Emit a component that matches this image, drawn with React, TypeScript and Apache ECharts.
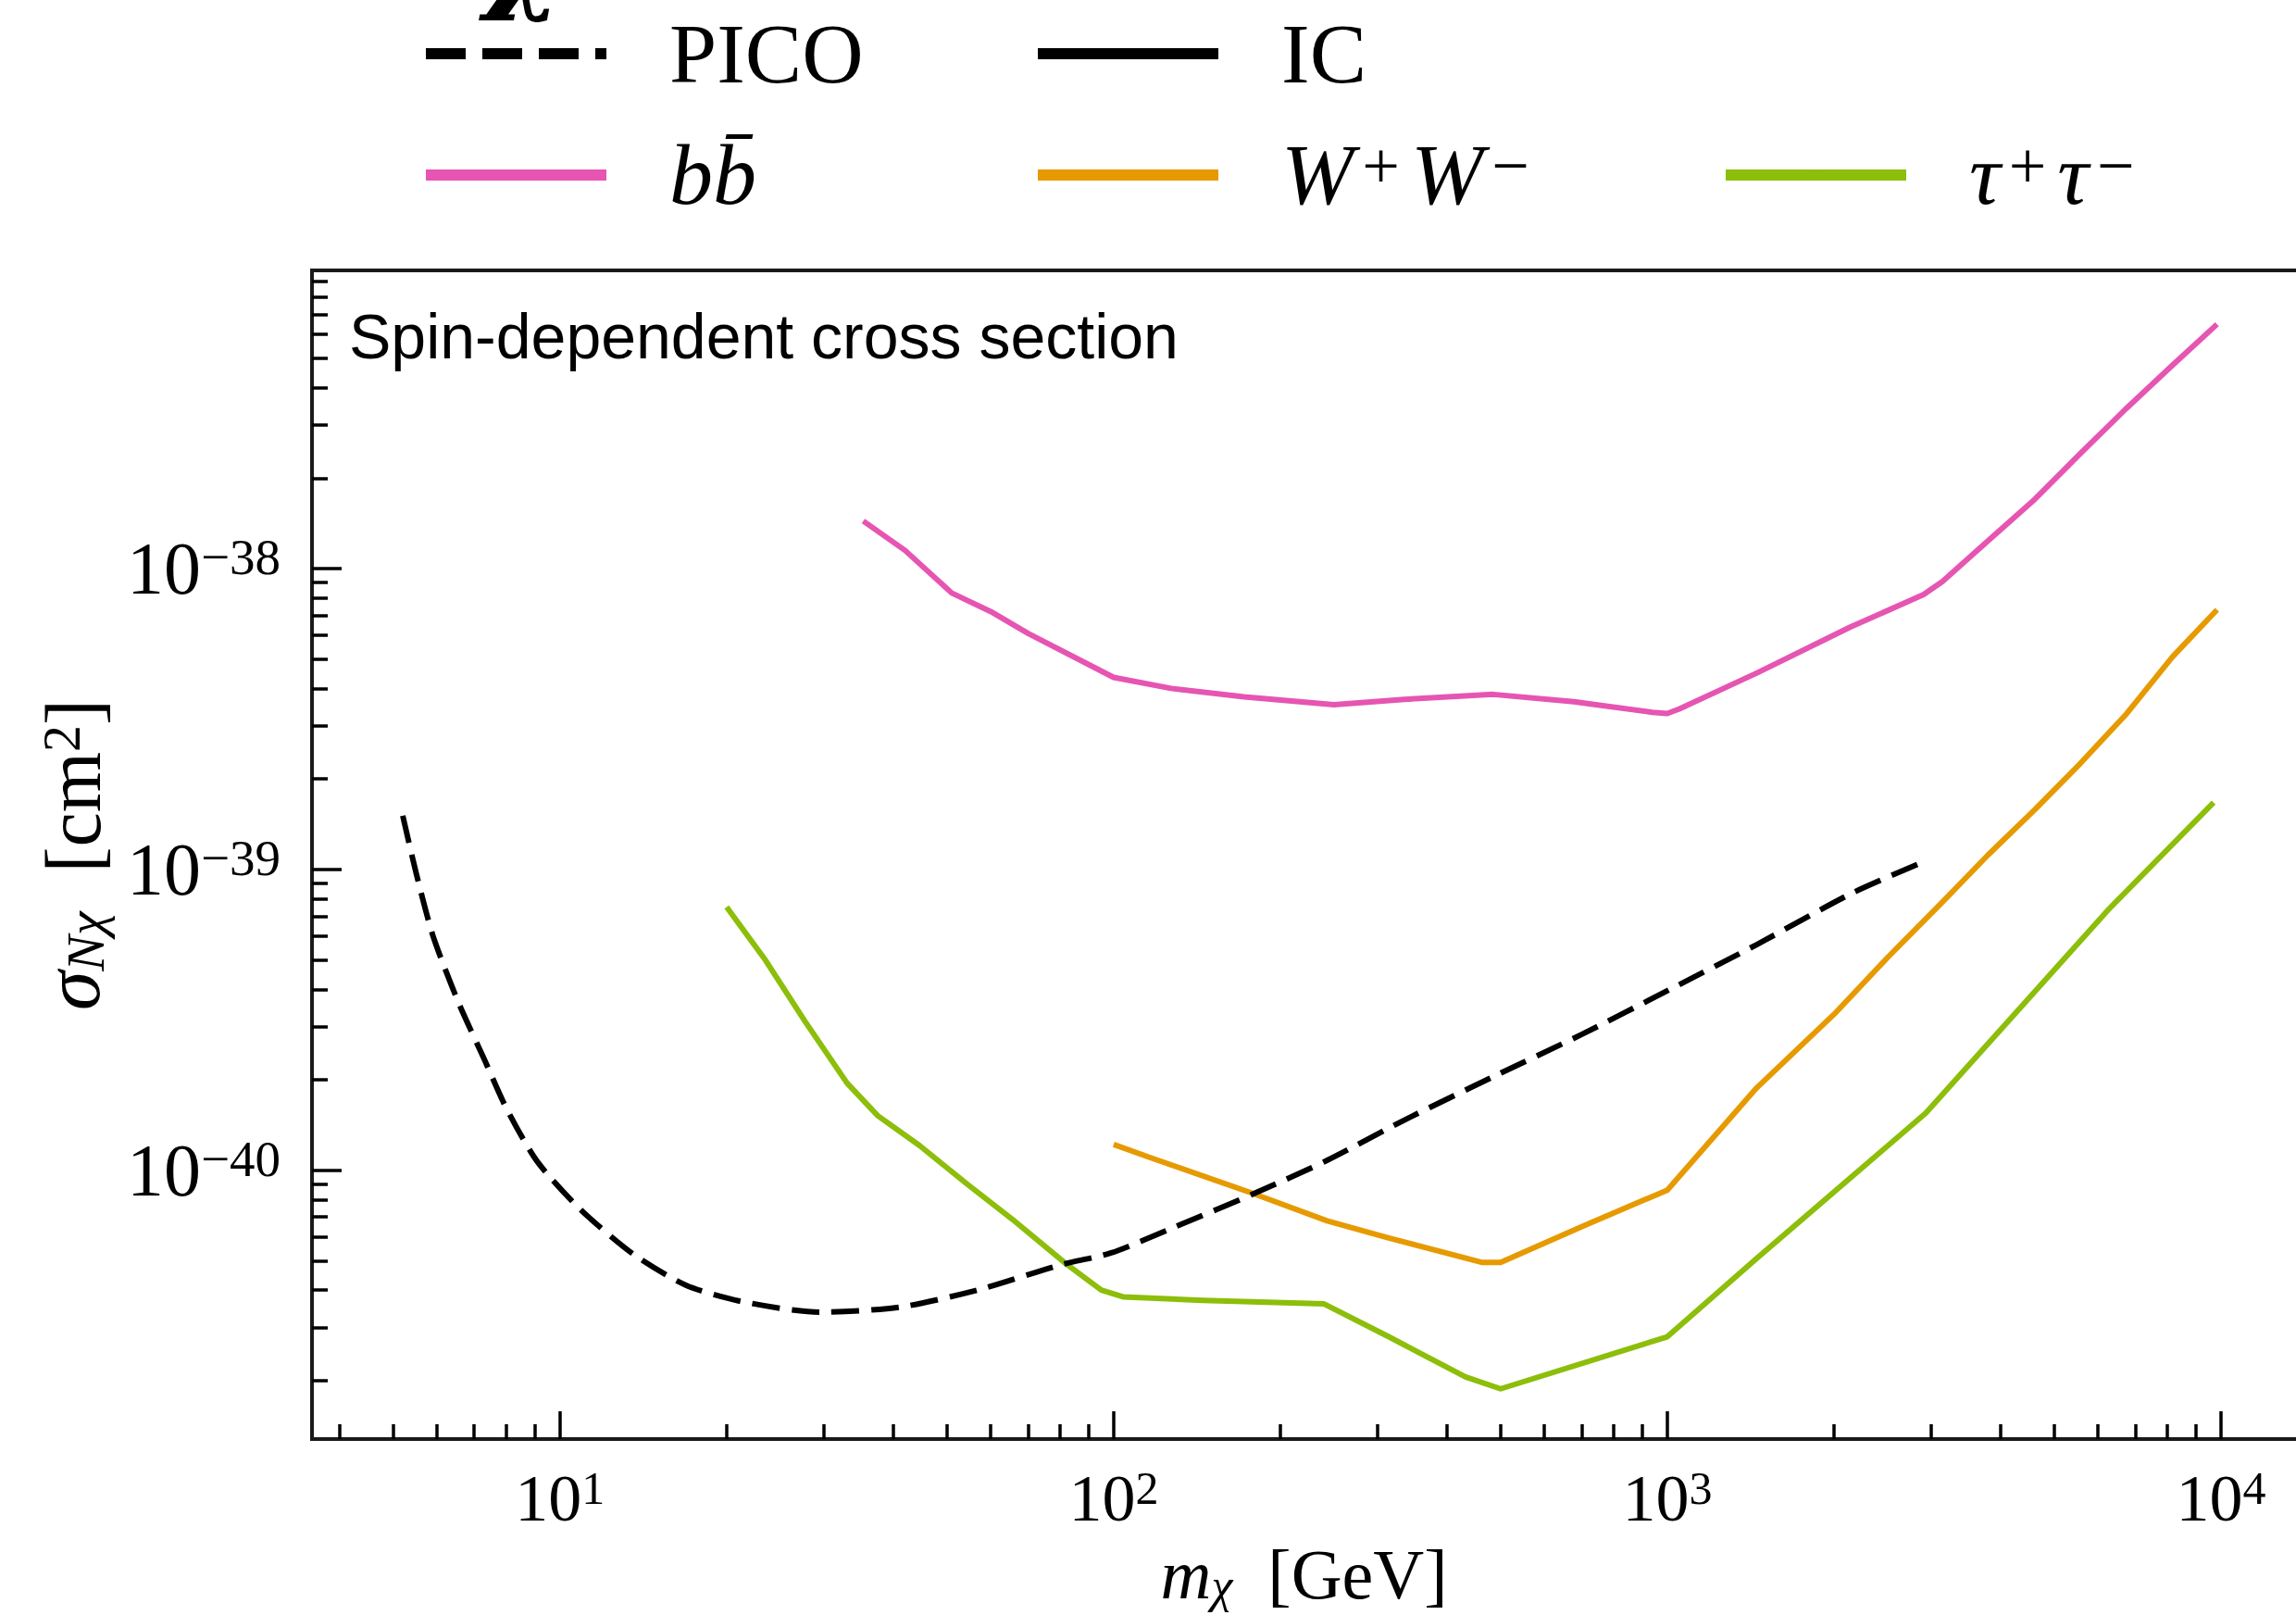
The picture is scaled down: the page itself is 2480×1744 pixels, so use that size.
import React, { useEffect, useRef } from 'react';
import * as echarts from 'echarts';

// ---------- data (mass in GeV, cross section in cm^2) ----------
const MASS_PICO = [5.2, 5.5, 5.9, 6.55, 7.3, 8.0, 9.1, 10.9, 13.6, 16.9, 21.1, 29.4, 41, 57, 80, 99, 128, 181, 243, 335, 485, 700, 1007, 1453, 2143, 2830];
const SIGMA_PICO = [1.51e-39, 9.7e-40, 6.0e-40, 3.63e-40, 2.34e-40, 1.61e-40, 1.07e-40, 7.4e-41, 5.25e-41, 4.15e-41, 3.68e-41, 3.38e-41, 3.51e-41, 4.01e-41, 4.85e-41, 5.32e-41, 6.45e-41, 8.44e-41, 1.08e-40, 1.47e-40, 2.05e-40, 2.83e-40, 3.98e-40, 5.64e-40, 8.3e-40, 1.04e-39];

const MASS_IC: number[] = [];
const SIGMA_IC: number[] = [];

const MASS_BB = [35.3, 42, 51, 60, 70, 100, 127, 172, 250, 335, 485, 678, 940, 1000, 1052, 1459, 2143, 2904, 3140, 3800, 4610, 5570, 6750, 8180, 9840];
const SIGMA_BB = [1.44e-38, 1.15e-38, 8.3e-39, 7.2e-39, 6.1e-39, 4.35e-39, 4.0e-39, 3.75e-39, 3.53e-39, 3.68e-39, 3.82e-39, 3.61e-39, 3.33e-39, 3.3e-39, 3.42e-39, 4.52e-39, 6.4e-39, 8.2e-39, 9.06e-39, 1.24e-38, 1.7e-38, 2.41e-38, 3.41e-38, 4.75e-38, 6.49e-38];

const MASS_WW = [100, 117, 178, 243, 314, 462, 500, 700, 1000, 1450, 2000, 2500, 3140, 3800, 4610, 5570, 6750, 8180, 9840];
const SIGMA_WW = [1.22e-40, 1.1e-40, 8.4e-41, 6.8e-41, 5.96e-41, 4.95e-41, 4.95e-41, 6.5e-41, 8.6e-41, 1.88e-40, 3.3e-40, 5.1e-40, 7.8e-40, 1.12e-39, 1.58e-39, 2.25e-39, 3.29e-39, 5.1e-39, 7.3e-39];

const MASS_TT = [20, 23.5, 27.7, 33, 37.5, 44.6, 54, 65.5, 82, 95, 104, 145, 240, 314, 432, 500, 1000, 1450, 2930, 6280, 9700];
const SIGMA_TT = [7.5e-40, 5.0e-40, 3.13e-40, 1.95e-40, 1.52e-40, 1.21e-40, 9.1e-41, 6.9e-41, 4.9e-41, 4.0e-41, 3.8e-41, 3.7e-41, 3.6e-41, 2.8e-41, 2.06e-41, 1.88e-41, 2.8e-41, 5.1e-41, 1.55e-40, 7.4e-40, 1.67e-39];

// ---------- axes ----------
const X_MIN = 3.565;
const X_MAX = 13665; // plot is cut off at the right edge of the picture
const Y_MIN = 1.28e-41;
const Y_MAX = 9.8e-38;
const Y_UNIT = 1e-41; // plotted unit for the log axis
const MINOR_MANTISSAS = [2, 3, 4, 5, 6, 7, 8, 9];
const X_MINOR_DECADES = [0, 1, 2, 3];
const Y_MINOR_DECADES = [-41, -40, -39, -38];

const X_TITLE = '{i|m}{sub|χ}{n|  [GeV]}';
const Y_TITLE = '{i|σ}{sub|Nχ}{n|  [cm}{sup|2}{n|]}';
const PANEL_TEXT = 'Spin-dependent cross section';

const COLORS = { PICO: '#000000', IC: '#000000', bb: '#E655B2', WW: '#E69A00', tt: '#8CBE0A' };

const SERIF = "'Liberation Serif', 'DejaVu Serif', serif";
const SANS = "'Liberation Sans', Arial, sans-serif";
const FRAME = '#1a1a1a';

function pairs(m: number[], s: number[]) {
  return m.map((v, i) => [v, s[i] / Y_UNIT]);
}
function minorLog(decades: number[]) {
  const out: number[] = [];
  decades.forEach((d) => MINOR_MANTISSAS.forEach((k) => out.push(Math.log10(k) + d)));
  return out;
}
function supText(e: number) {
  return e < 0 ? '\u2212' + Math.abs(e) : String(e);
}
function powLabel(v: number, shift: number) {
  const l = Math.log10(v);
  const e = Math.round(l);
  if (Math.abs(l - e) > 1e-6) return '';
  return '{b|10}{s|' + supText(e + shift) + '}';
}

const LEGEND_TEXT: Record<string, string> = {
  PICO: '{g| }{n|PICO}',
  IC: '{g| }{n|IC}',
  'bb̄': '{g| }{i|bb\u0304}',
  'W⁺W⁻': '{g| }{i|W}{s|+}{i|W}{s|\u2212}',
  'τ⁺τ⁻': '{g| }{i|τ}{s|+}{i|τ}{s|\u2212}',
};

export default function App() {
  const ref = useRef<HTMLDivElement>(null);
  useEffect(() => {
    const chart = echarts.init(ref.current as HTMLDivElement, null, { renderer: 'svg' });
    const yShift = Math.round(Math.log10(Y_UNIT));

    const legendRich = {
      g: { width: 63, fontSize: 92, lineHeight: 92 },
      n: { fontFamily: SERIF, fontSize: 92, lineHeight: 92, verticalAlign: 'bottom', color: '#000' },
      i: { fontFamily: SERIF, fontStyle: 'italic', fontSize: 94, lineHeight: 92, verticalAlign: 'bottom', color: '#000' },
      s: { fontFamily: SERIF, fontSize: 72, lineHeight: 18, verticalAlign: 'top', color: '#000', padding: [0, 12, 0, 9] },
    };
    const mkLegend = (name: string, left: number, top: number, dash?: number[]) => ({
      data: [name],
      left,
      top,
      padding: 0,
      itemWidth: 195,
      itemHeight: 12,
      itemGap: 0,
      selectedMode: false,
      lineStyle: { width: 12, type: dash ? dash : 'solid' },
      formatter: (n: string) => LEGEND_TEXT[n] || n,
      textStyle: { fontFamily: SERIF, fontSize: 92, color: '#000', rich: legendRich },
    });

    const tickStyle = { color: '#000', width: 3.5 };
    const frameLine = { show: true, onZero: false, lineStyle: { color: FRAME, width: 4, cap: 'square' } };
    const labelRichX = {
      b: { fontFamily: SERIF, fontSize: 72, lineHeight: 72, verticalAlign: 'bottom', color: '#000' },
      s: { fontFamily: SERIF, fontSize: 50, lineHeight: 32, verticalAlign: 'top', color: '#000' },
    };
    const labelRichY = {
      b: { fontFamily: SERIF, fontSize: 80, lineHeight: 80, verticalAlign: 'bottom', color: '#000' },
      s: { fontFamily: SERIF, fontSize: 55, lineHeight: 38, verticalAlign: 'top', color: '#000' },
    };

    const lineSeries = (name: string, data: number[][], color: string, dash?: number[], z = 2, smooth: number | boolean = false) => ({
      name,
      type: 'line',
      data,
      symbol: 'none',
      smooth,
      xAxisIndex: 0,
      yAxisIndex: 0,
      z,
      lineStyle: { color, width: 6, type: dash ? dash : 'solid', cap: 'butt', join: 'round' },
      itemStyle: { color },
      emphasis: { disabled: true },
    });

    const option = {
      animation: false,
      backgroundColor: '#ffffff',
      grid: {
        left: 337,
        top: 292,
        right: 0,
        height: 1262,
        show: false,
        containLabel: false,
      },
      legend: [
        mkLegend('PICO', 454, 12, [43, 18]),
        mkLegend('IC', 1115, 12),
        mkLegend('bb̄', 454, 141),
        mkLegend('W⁺W⁻', 1115, 141),
        mkLegend('τ⁺τ⁻', 1858, 141),
      ],
      xAxis: [
        {
          type: 'log',
          logBase: 10,
          min: X_MIN,
          max: X_MAX,
          gridIndex: 0,
          position: 'bottom',
          axisLine: frameLine,
          splitLine: { show: false },
          axisTick: { show: true, inside: true, length: 30, lineStyle: tickStyle },
          axisLabel: {
            margin: 28,
            showMinLabel: false,
            showMaxLabel: false,
            formatter: (v: number) => powLabel(v, 0),
            rich: labelRichX,
          },
          name: X_TITLE,
          nameLocation: 'middle',
          nameGap: 108,
          nameTextStyle: {
            rich: {
              i: { fontFamily: SERIF, fontStyle: 'italic', fontSize: 76, lineHeight: 76, verticalAlign: 'bottom', color: '#000' },
              n: { fontFamily: SERIF, fontSize: 76, lineHeight: 76, verticalAlign: 'bottom', color: '#000' },
              sub: { fontFamily: SERIF, fontStyle: 'italic', fontSize: 52, lineHeight: 38, verticalAlign: 'bottom', color: '#000' },
            },
          },
        },
        {
          type: 'value',
          min: Math.log10(X_MIN),
          max: Math.log10(X_MAX),
          gridIndex: 0,
          position: 'bottom',
          axisLine: { show: false },
          splitLine: { show: false },
          axisLabel: { show: false },
          axisTick: { show: true, inside: true, length: 16, lineStyle: tickStyle, customValues: minorLog(X_MINOR_DECADES) },
        },
        {
          type: 'value',
          min: 0,
          max: 1,
          gridIndex: 0,
          position: 'top',
          axisLine: frameLine,
          splitLine: { show: false },
          axisLabel: { show: false },
          axisTick: { show: false },
        },
      ],
      yAxis: [
        {
          type: 'log',
          logBase: 10,
          min: Y_MIN / Y_UNIT,
          max: Y_MAX / Y_UNIT,
          gridIndex: 0,
          position: 'left',
          axisLine: frameLine,
          splitLine: { show: false },
          axisTick: { show: true, inside: true, length: 32, lineStyle: tickStyle },
          axisLabel: {
            margin: 34,
            showMinLabel: false,
            showMaxLabel: false,
            formatter: (v: number) => powLabel(v, yShift),
            rich: labelRichY,
          },
          name: Y_TITLE,
          nameLocation: 'middle',
          nameRotate: 90,
          nameGap: 216,
          nameTextStyle: {
            rich: {
              i: { fontFamily: SERIF, fontStyle: 'italic', fontSize: 86, lineHeight: 84, verticalAlign: 'bottom', color: '#000' },
              n: { fontFamily: SERIF, fontSize: 84, lineHeight: 84, verticalAlign: 'bottom', color: '#000' },
              sub: { fontFamily: SERIF, fontStyle: 'italic', fontSize: 58, lineHeight: 32, verticalAlign: 'bottom', color: '#000' },
              sup: { fontFamily: SERIF, fontSize: 58, lineHeight: 50, verticalAlign: 'top', color: '#000' },
            },
          },
        },
        {
          type: 'value',
          min: Math.log10(Y_MIN),
          max: Math.log10(Y_MAX),
          gridIndex: 0,
          position: 'left',
          axisLine: { show: false },
          splitLine: { show: false },
          axisLabel: { show: false },
          axisTick: { show: true, inside: true, length: 17, lineStyle: tickStyle, customValues: minorLog(Y_MINOR_DECADES) },
        },
      ],
      series: [
        lineSeries('IC', pairs(MASS_IC, SIGMA_IC), COLORS.IC),
        lineSeries('bb̄', pairs(MASS_BB, SIGMA_BB), COLORS.bb),
        lineSeries('W⁺W⁻', pairs(MASS_WW, SIGMA_WW), COLORS.WW),
        lineSeries('τ⁺τ⁻', pairs(MASS_TT, SIGMA_TT), COLORS.tt),
        lineSeries('PICO', pairs(MASS_PICO, SIGMA_PICO), COLORS.PICO, [30, 13], 3, 0.25),
      ],
      graphic: [
        {
          type: 'text',
          x: 377,
          y: 363,
          style: { text: PANEL_TEXT, fontSize: 68, fontFamily: SANS, fill: '#000', align: 'left', verticalAlign: 'middle' },
        },
        {
          type: 'text',
          x: 565,
          y: -48,
          style: { text: 'χ', fontSize: 124, fontFamily: "'DejaVu Serif', serif", fontStyle: 'italic', fontWeight: 'bold', fill: '#000', align: 'center', verticalAlign: 'middle' },
        },
      ],
    };
    chart.setOption(option as any);
    return () => chart.dispose();
  }, []);
  return (
    <div
      ref={ref}
      style={{ position: 'absolute', left: 0, top: 0, width: 2480, height: 1744, background: '#fff' }}
    />
  );
}
